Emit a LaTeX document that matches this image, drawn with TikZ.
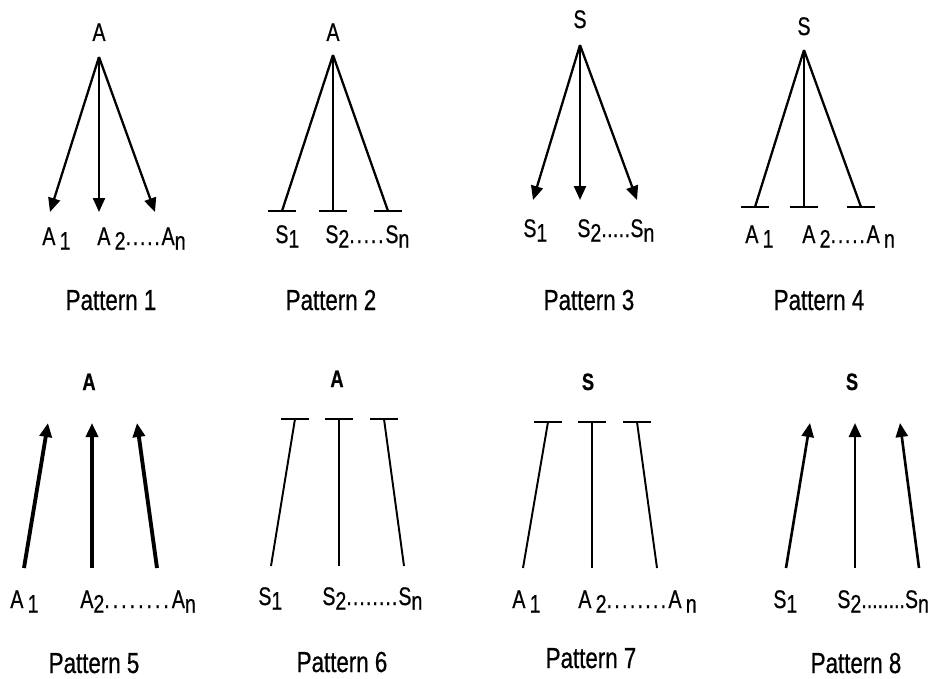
\documentclass[tikz,border=0pt]{standalone}
\usepackage{fontspec}
\setmainfont{Liberation Sans}[FakeStretch=0.77, FakeBold=0.6]
\usetikzlibrary{arrows.meta}
\newcommand{\lo}[1]{\raisebox{-0.35ex}{#1}}
\newcommand{\dts}[2][1pt]{\foreach \i in {1,...,#2}{.\kern#1}}
\newcommand{\tbar}[1]{\draw[line width=1.4pt] ([xshift=-0.28cm]#1) -- ([xshift=0.28cm]#1);}
\tikzset{
  lab/.style={font=\fontsize{14.5}{16}\selectfont, inner sep=0pt, anchor=base west},
  ttl/.style={font=\fontsize{14.5}{16}\selectfont, inner sep=0pt, anchor=base},
  bttl/.style={font=\fontsize{13.5}{15}\selectfont\bfseries, inner sep=0pt, anchor=base},
  pcaption/.style={font=\fontsize{16.5}{18}\selectfont, inner sep=0pt, anchor=base},
  act/.style={line width=1.3pt, -{Triangle[length=0.28cm,width=0.24cm]}},
  inh/.style={line width=1.3pt},
}
\begin{document}
\begin{tikzpicture}[x=0.02cm, y=-0.02cm]
  \useasboundingbox (0,0) rectangle (940,679);
  % pattern 1: A activates A1..An
  \node[ttl] (p1src) at (99,41) {A};
  \coordinate (p1top) at (99,57);
  \foreach \n/\x in {a/50,b/99,c/155} {
    \coordinate (p1\n) at (\x,212);
    \draw[act] (p1top) -- (p1\n);
  }
  \node[lab] (p1l1) at (42,245) {A\,\lo{1}};
  \node[lab] (p1l2) at (97,245) {A\,\lo{2}\dts{5}A\lo{n}};
  \node[pcaption] (p1cap) at (111,310) {Pattern 1};
  % pattern 2: A inhibits S1..Sn
  \node[ttl] (p2src) at (333,41) {A};
  \coordinate (p2top) at (333,55);
  \foreach \n/\x in {a/282,b/333,c/388} {
    \coordinate (p2\n) at (\x,211);
    \draw[inh] (p2top) -- (p2\n);
    \tbar{p2\n}
  }
  \node[lab] (p2l1) at (275,243) {S\lo{1}};
  \node[lab] (p2l2) at (325,243) {S\lo{2}\dts{5}S\lo{n}};
  \node[pcaption] (p2cap) at (331,310) {Pattern 2};
  % pattern 3
  \node[ttl] (p3src) at (580,28) {S};
  \coordinate (p3top) at (580,45);
  \foreach \n/\x in {a/533,b/580,c/637} {
    \coordinate (p3\n) at (\x,200);
    \draw[act] (p3top) -- (p3\n);
  }
  \node[lab] (p3l1) at (523,237) {S\lo{1}};
  \node[lab] (p3l2) at (577,237) {S\lo{2}\dts[0.2pt]{5}S\lo{n}};
  \node[pcaption] (p3cap) at (589,310) {Pattern 3};
  % pattern 4
  \node[ttl] (p4src) at (804,35) {S};
  \coordinate (p4top) at (804,50);
  \foreach \n/\x in {a/755,b/804,c/861} {
    \coordinate (p4\n) at (\x,207);
    \draw[inh] (p4top) -- (p4\n);
    \tbar{p4\n}
  }
  \node[lab] (p4l1) at (745,243) {A\,\lo{1}};
  \node[lab] (p4l2) at (802,243) {A\,\lo{2}\dts{5}A\,\lo{n}};
  \node[pcaption] (p4cap) at (819,310) {Pattern 4};
  % pattern 5
  \node[bttl] (p5src) at (89,390) {A};
  \foreach \n/\x/\u in {a/24/48,b/92/92,c/157/137} {
    \coordinate (p5\n) at (\x,568);
    \coordinate (p5\n t) at (\u,423);
    \draw[act, line width=2.2pt] (p5\n) -- (p5\n t);
  }
  \node[lab] (p5l1) at (10,608) {A\,\lo{1}};
  \node[lab] (p5l2) at (80,608) {A\lo{2}\dts[1.7pt]{8}A\lo{n}};
  \node[pcaption] (p5cap) at (94,673) {Pattern 5};
  % pattern 6
  \node[bttl] (p6src) at (337,387) {A};
  \foreach \n/\x/\u in {a/271/295,b/339/339,c/404/384} {
    \coordinate (p6\n) at (\x,566);
    \coordinate (p6\n t) at (\u,419);
    \draw[inh, line width=1.1pt] (p6\n) -- (p6\n t);
    \tbar{p6\n t}
  }
  \node[lab] (p6l1) at (258,605) {S\lo{1}};
  \node[lab] (p6l2) at (322,605) {S\lo{2}\dts[0.6pt]{8}S\lo{n}};
  \node[pcaption] (p6cap) at (342,672) {Pattern 6};
  % pattern 7
  \node[bttl] (p7src) at (588,390) {S};
  \foreach \n/\x/\u in {a/523/548,b/592/592,c/657/637} {
    \coordinate (p7\n) at (\x,568);
    \coordinate (p7\n t) at (\u,422);
    \draw[inh, line width=1.1pt] (p7\n) -- (p7\n t);
    \tbar{p7\n t}
  }
  \node[lab] (p7l1) at (512,608) {A\,\lo{1}};
  \node[lab] (p7l2) at (578,608) {A\,\lo{2}\dts[1.3pt]{8}A\,\lo{n}};
  \node[pcaption] (p7cap) at (591,668) {Pattern 7};
  % pattern 8
  \node[bttl] (p8src) at (852,390) {S};
  \foreach \n/\x/\u in {a/786/810,b/855/855,c/919/900} {
    \coordinate (p8\n) at (\x,568);
    \coordinate (p8\n t) at (\u,423);
    \draw[act, line width=1.5pt] (p8\n) -- (p8\n t);
  }
  \node[lab] (p8l1) at (773,608) {S\lo{1}};
  \node[lab] (p8l2) at (837,608) {S\lo{2}\dts[0pt]{8}S\lo{n}};
  \node[pcaption] (p8cap) at (856,673) {Pattern 8};
\end{tikzpicture}
\end{document}
